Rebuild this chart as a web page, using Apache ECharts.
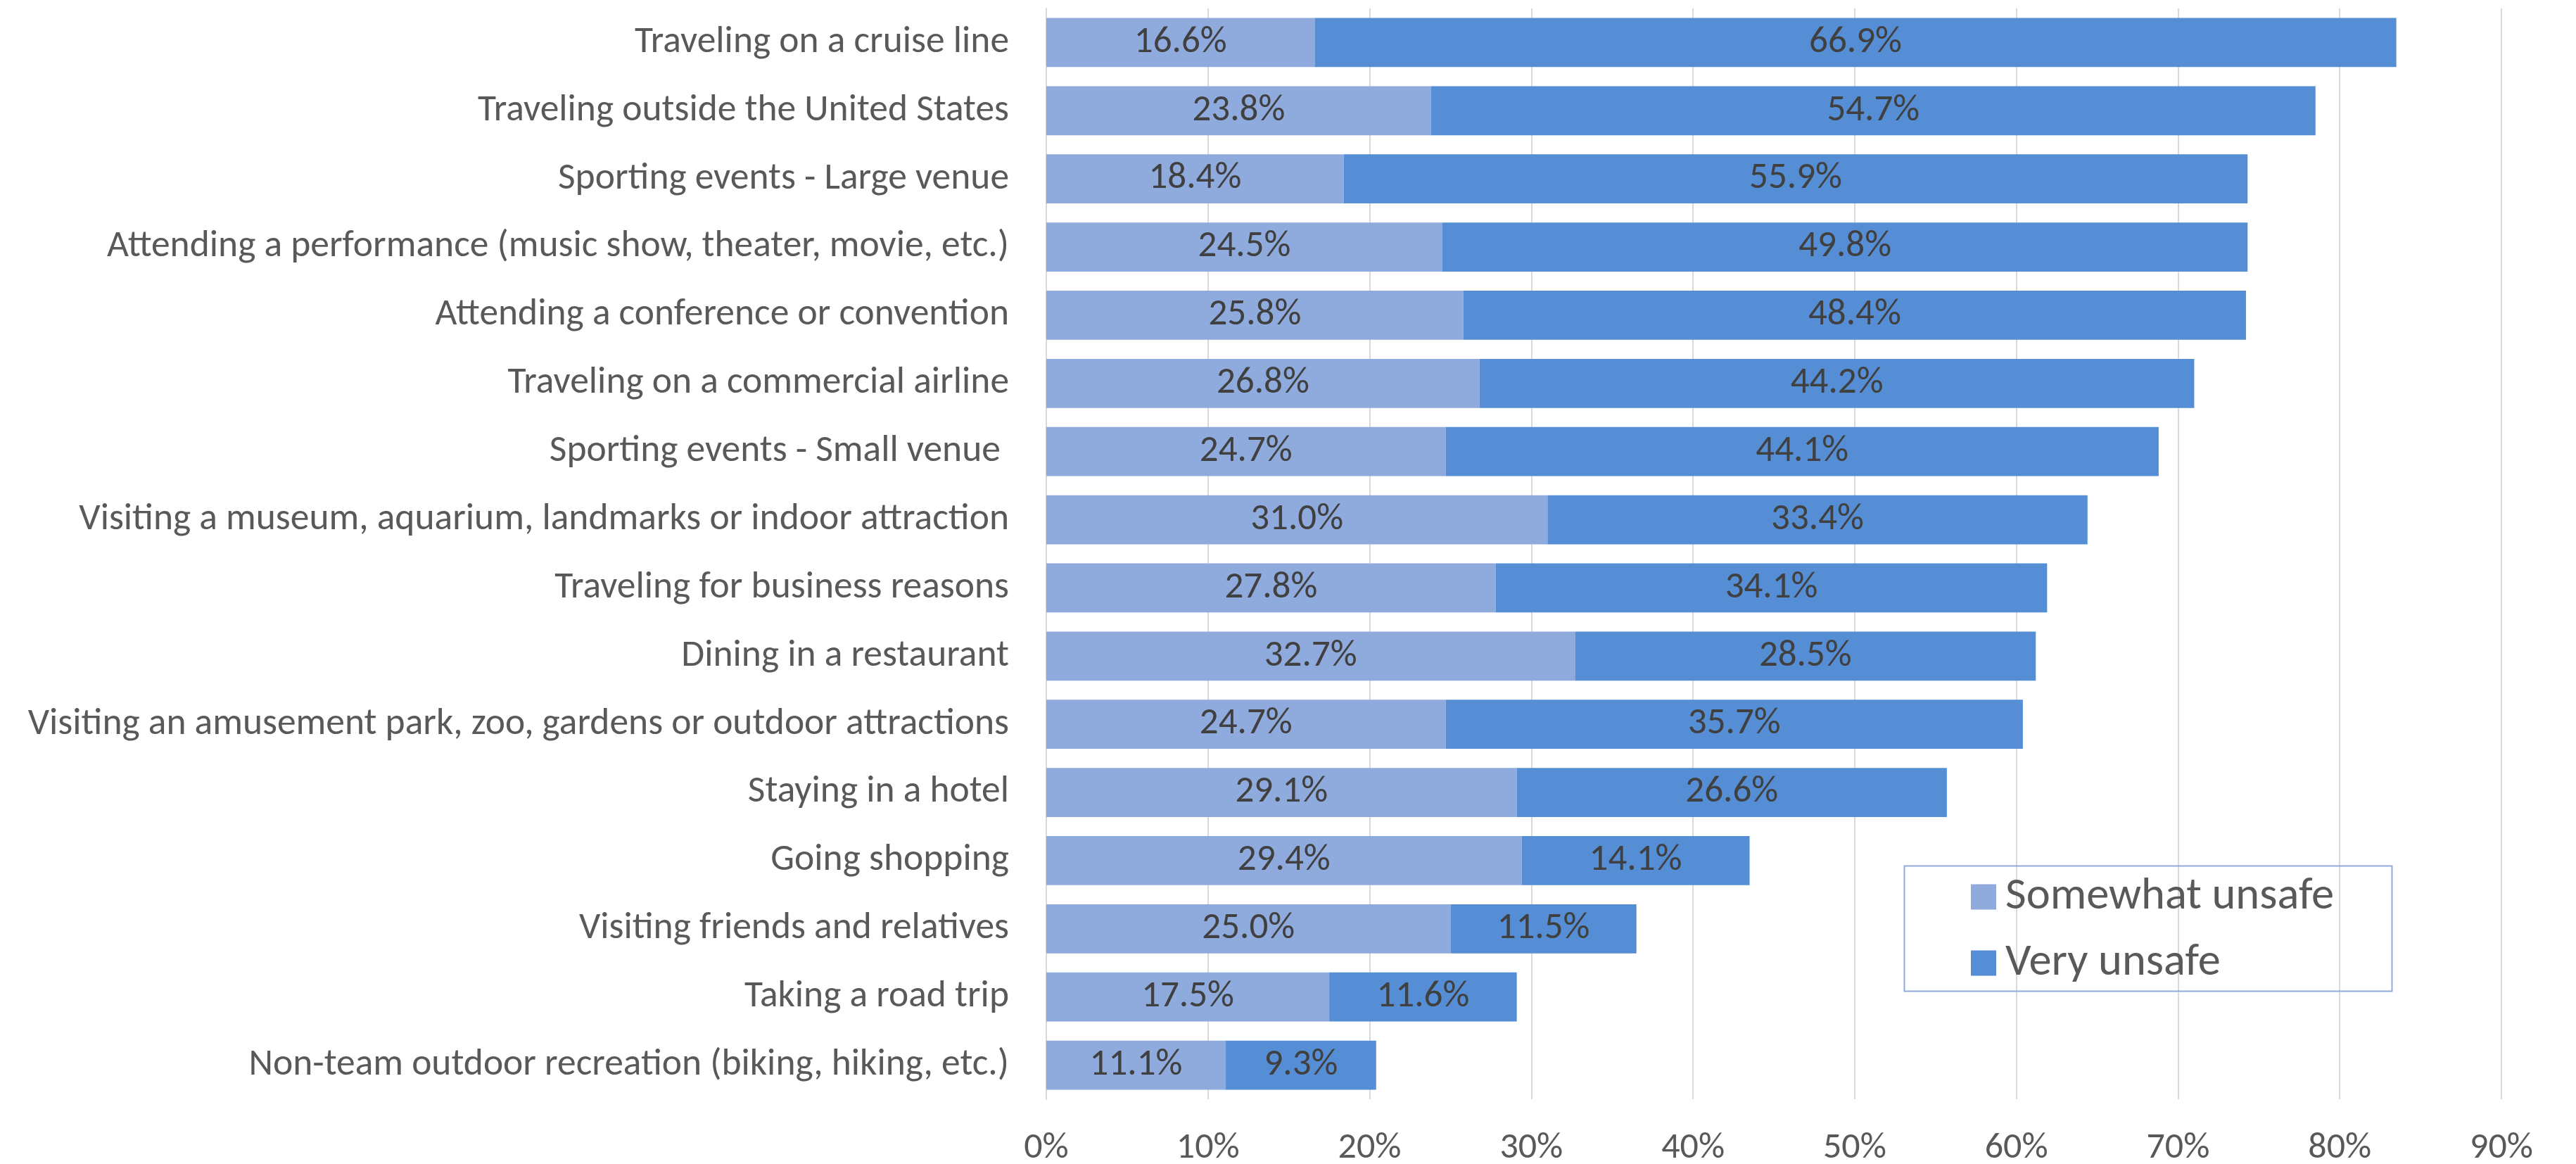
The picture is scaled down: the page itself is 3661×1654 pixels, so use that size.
<!DOCTYPE html>
<html>
<head>
<meta charset="utf-8">
<style>
  html, body { margin: 0; padding: 0; background: #ffffff; }
  #chart { width: 3661px; height: 1654px; }
</style>
<script src="https://cdn.jsdelivr.net/npm/echarts@6/dist/echarts.min.js"></script>
</head>
<body>
<div id="chart"></div>
<script>
// Activities, listed top to bottom
const categories = [
  "Traveling on a cruise line",
  "Traveling outside the United States",
  "Sporting events - Large venue",
  "Attending a performance (music show, theater, movie, etc.)",
  "Attending a conference or convention",
  "Traveling on a commercial airline",
  "Sporting events - Small venue ",
  "Visiting a museum, aquarium, landmarks or indoor attraction",
  "Traveling for business reasons",
  "Dining in a restaurant",
  "Visiting an amusement park, zoo, gardens or outdoor attractions",
  "Staying in a hotel",
  "Going shopping",
  "Visiting friends and relatives",
  "Taking a road trip",
  "Non-team outdoor recreation (biking, hiking, etc.)"
];

// Share of respondents (%)
const somewhatUnsafe = [16.6, 23.8, 18.4, 24.5, 25.8, 26.8, 24.7, 31.0, 27.8, 32.7, 24.7, 29.1, 29.4, 25.0, 17.5, 11.1];
const veryUnsafe     = [66.9, 54.7, 55.9, 49.8, 48.4, 44.2, 44.1, 33.4, 34.1, 28.5, 35.7, 26.6, 14.1, 11.5, 11.6, 9.3];

const seriesNames = ["Somewhat unsafe", "Very unsafe"];
const xTicks = { min: 0, max: 90, interval: 10 };

const FONT = "Carlito, Lato, sans-serif";
const LIGHT = "#8FAADC";
const DARK = "#558ED5";

const chart = echarts.init(document.getElementById("chart"), null, { renderer: "canvas" });

const valueLabel = {
  show: true,
  position: "inside",
  fontFamily: FONT,
  fontSize: 53,
  color: "#404040",
  formatter: p => p.value.toFixed(1) + "%"
};

chart.setOption({
  backgroundColor: "#ffffff",
  animation: false,
  textStyle: { fontFamily: FONT },
  grid: { left: 1487, right: 106, top: 12, bottom: 92, containLabel: false, outerBoundsMode: "none" },
  xAxis: {
    type: "value",
    min: xTicks.min,
    max: xTicks.max,
    interval: xTicks.interval,
    axisLine: { show: false },
    axisTick: { show: false },
    splitLine: { show: true, lineStyle: { color: "#D9D9D9", width: 2 } },
    axisLabel: {
      formatter: "{value}%",
      fontFamily: FONT,
      fontSize: 52,
      color: "#595959",
      margin: 44
    }
  },
  yAxis: {
    type: "category",
    data: categories,
    inverse: true,
    axisLine: { show: true, lineStyle: { color: "#D9D9D9", width: 2 } },
    axisTick: { show: false },
    splitLine: { show: false },
    axisLabel: {
      fontFamily: FONT,
      fontSize: 53.5,
      color: "#595959",
      margin: 53
    }
  },
  legend: {
    orient: "vertical",
    left: 2801,
    top: 1242,
    padding: 0,
    itemGap: 29,
    itemWidth: 36,
    itemHeight: 36,
    icon: "rect",
    textStyle: { fontFamily: FONT, fontSize: 64.5, color: "#595959", lineHeight: 60, padding: [0, 0, 0, 8] },
    data: seriesNames
  },
  graphic: [{
    type: "rect",
    left: 2704,
    top: 1228,
    shape: { width: 693, height: 178 },
    style: { fill: null, stroke: LIGHT, lineWidth: 2 },
    z: 10
  }],
  series: [
    {
      name: seriesNames[0],
      type: "bar",
      stack: "total",
      barCategoryGap: "28%",
      itemStyle: { color: LIGHT },
      label: valueLabel,
      data: somewhatUnsafe
    },
    {
      name: seriesNames[1],
      type: "bar",
      stack: "total",
      barCategoryGap: "28%",
      itemStyle: { color: DARK },
      label: valueLabel,
      data: veryUnsafe
    }
  ]
});
</script>
</body>
</html>
